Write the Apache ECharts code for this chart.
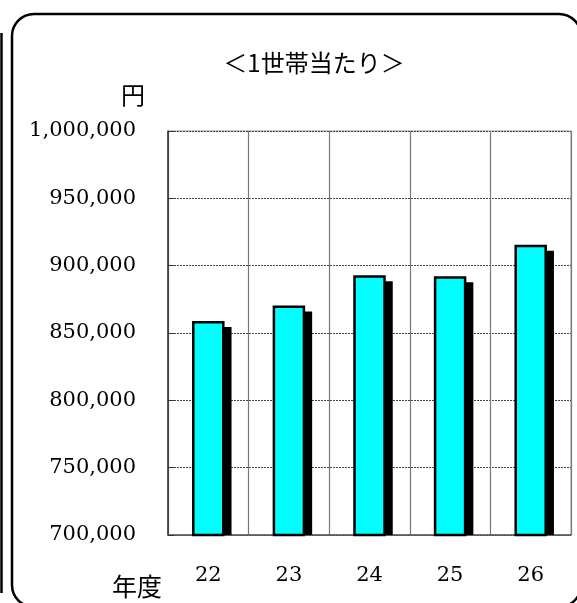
<!DOCTYPE html>
<html>
<head>
<meta charset="utf-8">
<script src="https://cdn.jsdelivr.net/npm/echarts@6/dist/echarts.min.js"></script>
<style>
html,body{margin:0;padding:0;background:#fff;}
#c{width:577px;height:603px;}
</style>
</head>
<body>
<div id="c"></div>
<script>
var title = '＜1世帯当たり＞';
var unitLabel = '円';
var xAxisName = '年度';
var categories = ['22', '23', '24', '25', '26'];
var values = [858000, 869500, 892000, 891300, 914600];
var yMin = 700000, yMax = 1000000, yStep = 50000;

var serif = '"DejaVu Serif", "Liberation Serif", serif';
var cjk = '"Noto Sans CJK JP", sans-serif';

var barData = categories.map(function (c, i) { return [i, values[i]]; });

function renderBar(params, api) {
  var cat = api.value(0);
  var top = api.coord([cat, api.value(1)]);
  var base = api.coord([cat, yMin]);
  var w = 30, bw = 2.5;
  var x0 = top[0] - w / 2;
  var y0 = top[1];
  var h = base[1] - y0;
  var sx = 7, sy = 6;
  return {
    type: 'group',
    children: [
      {type: 'rect', shape: {x: x0 - bw / 2 + sx, y: y0 - bw / 2 + sy, width: w + bw, height: base[1] - (y0 - bw / 2 + sy)},
       style: {fill: '#000'}},
      {type: 'rect', shape: {x: x0, y: y0, width: w, height: h},
       style: {fill: '#00FFFF', stroke: '#000', lineWidth: bw}}
    ]
  };
}

var chart = echarts.init(document.getElementById('c'), null, {renderer: 'canvas'});
chart.setOption({
  animation: false,
  backgroundColor: '#fff',
  graphic: [
    {type: 'rect', shape: {x: 12, y: 14, width: 569, height: 593, r: 22},
     style: {fill: 'none', stroke: '#000', lineWidth: 2.5}, z: 0},
    {type: 'line', shape: {x1: 1.5, y1: 33, x2: 1.5, y2: 593},
     style: {stroke: '#000', lineWidth: 2.5}},
    {type: 'text', x: 314, y: 63, style: {text: title, font: '24px ' + cjk, fill: '#000', textAlign: 'center', textVerticalAlign: 'middle'}},
    {type: 'text', x: 133, y: 95, style: {text: unitLabel, font: '24px ' + cjk, fill: '#000', textAlign: 'center', textVerticalAlign: 'middle'}},
    {type: 'text', x: 137, y: 586, style: {text: xAxisName, font: '25px ' + cjk, fill: '#000', textAlign: 'center', textVerticalAlign: 'middle'}}
  ],
  grid: {left: 168, top: 131, right: 6, bottom: 68, show: true, borderColor: '#999', borderWidth: 1, backgroundColor: '#fff'},
  xAxis: {
    type: 'category',
    data: categories,
    axisLine: {show: true, lineStyle: {color: '#555', width: 1.5}},
    axisTick: {show: false},
    splitLine: {show: true, lineStyle: {color: '#777', width: 1.2, type: 'solid'}},
    axisLabel: {color: '#000', fontFamily: serif, fontSize: 21, margin: 30}
  },
  yAxis: {
    type: 'value',
    min: yMin, max: yMax, interval: yStep,
    axisLine: {show: true, lineStyle: {color: '#333', width: 1.5}},
    axisTick: {show: true, inside: true, length: 6, lineStyle: {color: '#333'}},
    splitLine: {show: true, lineStyle: {color: '#444', width: 1, type: [2, 1]}},
    axisLabel: {
      color: '#000', fontFamily: serif, fontSize: 21, margin: 32,
      formatter: function (v) { return v.toLocaleString('en-US'); }
    }
  },
  series: [{
    type: 'custom',
    data: barData,
    encode: {x: 0, y: 1},
    renderItem: renderBar,
    z: 3
  }]
});
</script>
</body>
</html>
